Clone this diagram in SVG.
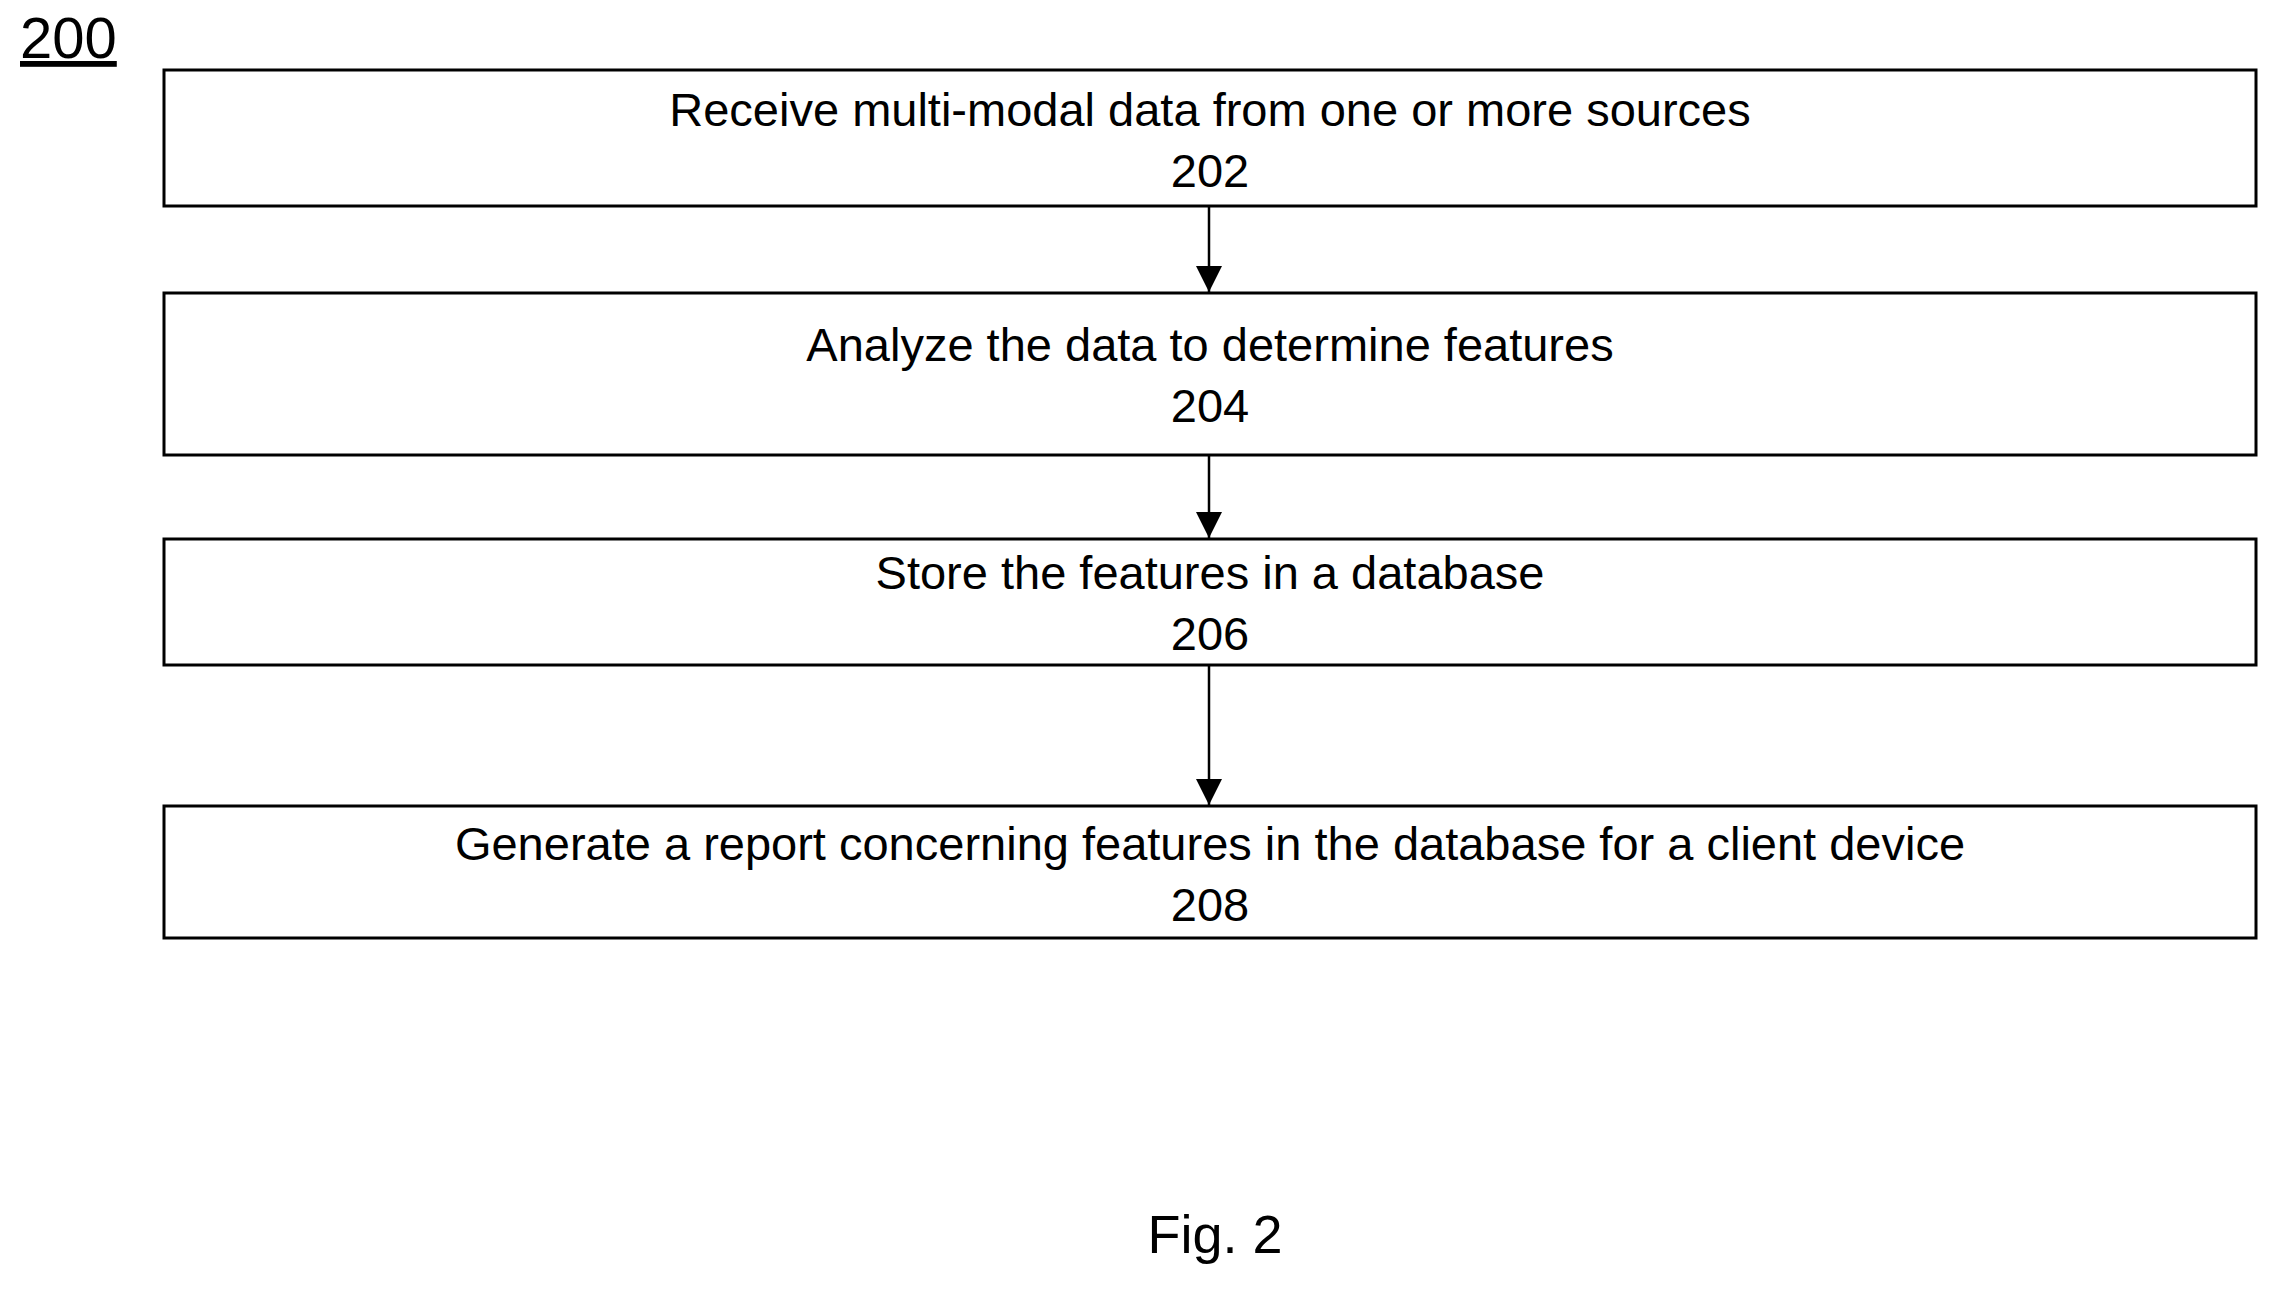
<svg xmlns="http://www.w3.org/2000/svg" width="2278" height="1290" viewBox="0 0 2278 1290">
<style>
.b{fill:#fff;stroke:#000;stroke-width:3}
.t{font-family:"Liberation Sans",Arial,sans-serif;font-size:47px;text-anchor:middle;fill:#000}
.c{stroke:#000;stroke-width:2.5;fill:none}
</style>
<defs><marker id="m" viewBox="0 0 10 10" refX="10" refY="5" markerWidth="28" markerHeight="26" orient="auto" markerUnits="userSpaceOnUse"><path d="M0,0 L10,5 L0,10Z"/></marker></defs>
<rect width="2278" height="1290" fill="#fff"/>
<text x="20" y="58" style="font-family:'Liberation Sans',Arial,sans-serif;font-size:58px" text-decoration="underline">200</text>
<g id="n202"><rect class="b" x="164" y="70" width="2092" height="136"/><text class="t" x="1210" y="126">Receive multi-modal data from one or more sources</text><text class="t" x="1210" y="187">202</text></g>
<g id="n204"><rect class="b" x="164" y="293" width="2092" height="162"/><text class="t" x="1210" y="361">Analyze the data to determine features</text><text class="t" x="1210" y="422">204</text></g>
<g id="n206"><rect class="b" x="164" y="539" width="2092" height="126"/><text class="t" x="1210" y="589">Store the features in a database</text><text class="t" x="1210" y="650">206</text></g>
<g id="n208"><rect class="b" x="164" y="806" width="2092" height="132"/><text class="t" x="1210" y="860">Generate a report concerning features in the database for a client device</text><text class="t" x="1210" y="921">208</text></g>
<g id="connectors">
<line class="c" x1="1209" y1="206" x2="1209" y2="292" marker-end="url(#m)"/>
<line class="c" x1="1209" y1="455" x2="1209" y2="538" marker-end="url(#m)"/>
<line class="c" x1="1209" y1="665" x2="1209" y2="805" marker-end="url(#m)"/>
</g>
<text x="1215" y="1253" style="font-family:'Liberation Sans',Arial,sans-serif;font-size:54px;text-anchor:middle">Fig. 2</text>
</svg>
